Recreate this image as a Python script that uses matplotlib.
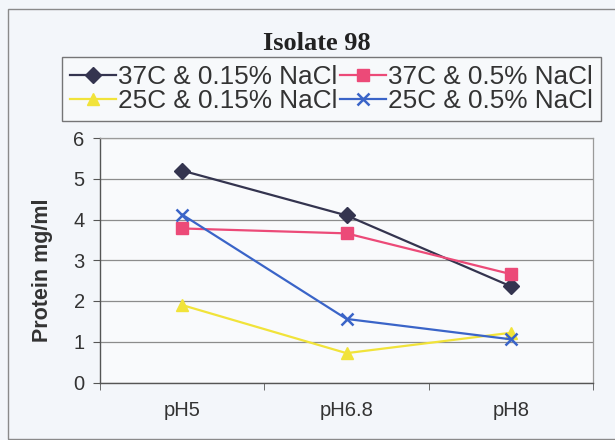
import matplotlib
matplotlib.use("Agg")
import matplotlib.pyplot as plt
from matplotlib.patches import Rectangle

categories = ["pH5", "pH6.8", "pH8"]
series_names = ["37C & 0.15% NaCl", "37C & 0.5% NaCl",
                "25C & 0.15% NaCl", "25C & 0.5% NaCl"]
v_37_015 = [5.2, 4.1, 2.36]
v_37_05 = [3.78, 3.66, 2.66]
v_25_015 = [1.9, 0.72, 1.22]
v_25_05 = [4.12, 1.56, 1.06]
y_ticks = [0, 1, 2, 3, 4, 5, 6]

W, H = 615, 440
fig = plt.figure(figsize=(W / 100, H / 100), dpi=100)
fig.patch.set_facecolor("#f3f6fa")

# outer chart frame
fig.patches.append(Rectangle((8 / W, 1 - 439 / H), 1.0, 430 / H,
                             transform=fig.transFigure, fill=False,
                             edgecolor="#8a8a8a", linewidth=1.0))

ax = fig.add_axes([100 / W, 1 - 382.5 / H, 493 / W, 244.5 / H])
ax.set_facecolor("#f9fafc")

x = list(range(len(categories)))
styles = [
    (v_37_015, "#34344f", "D", 8, "#34344f"),
    (v_37_05, "#ec4a78", "s", 8.5, "#ec4a78"),
    (v_25_015, "#f1e33a", "^", 8.5, "#f1e33a"),
    (v_25_05, "#3a64c8", "x", 9, "#3a64c8"),
]
handles = []
for (vals, col, mk, ms, mc), name in zip(styles, series_names):
    h, = ax.plot(x, vals, color=col, linewidth=1.6, marker=mk, markersize=ms,
                 markerfacecolor=mc, markeredgecolor=mc,
                 markeredgewidth=1.8 if mk == "x" else 1.0, label=name)
    handles.append(h)

ax.set_xlim(-0.5, len(categories) - 0.5)
ax.set_ylim(0, 6)
ax.set_yticks(y_ticks)
ax.set_xticks(x)
ax.set_xticklabels(categories)
ax.set_xticks([i - 0.5 for i in range(len(categories) + 1)], minor=True)
ax.tick_params(axis="x", which="major", length=0, pad=13)
ax.tick_params(axis="x", which="minor", length=5, direction="out", color="#555555")
ax.tick_params(axis="y", length=5, direction="out", color="#555555", pad=6)
for lab in ax.get_xticklabels() + ax.get_yticklabels():
    lab.set_fontfamily("Liberation Sans")
    lab.set_fontsize(14.5)
    lab.set_color("#333333")

ax.grid(axis="y", color="#8c8c8c", linewidth=0.9)
ax.set_axisbelow(True)
for side in ["top", "right"]:
    ax.spines[side].set_color("#9a9a9a")
    ax.spines[side].set_linewidth(0.9)
for side in ["left", "bottom"]:
    ax.spines[side].set_color("#555555")
    ax.spines[side].set_linewidth(1.0)

ax.set_ylabel("Protein mg/ml", fontfamily="Liberation Sans", fontsize=15.5,
              fontweight="bold", color="#333333")
ax.yaxis.set_label_coords(-0.095, 0.46)

fig.text(317 / W, 1 - 44 / H, "Isolate 98", ha="center", va="center",
         fontfamily="Liberation Serif", fontweight="bold", fontsize=19,
         color="#222222")

# legend laid out row-wise in two columns
order = [0, 2, 1, 3]
leg = fig.legend([handles[i] for i in order], [series_names[i] for i in order],
                 ncol=2, loc="upper left",
                 bbox_to_anchor=(62 / W, 1 - 57 / H),
                 frameon=True, fancybox=False, borderaxespad=0,
                 prop={"family": "Liberation Sans", "size": 18.8},
                 handlelength=1.75, handletextpad=0.1, columnspacing=0.1,
                 labelspacing=0.02, borderpad=0.3)
leg.get_frame().set_edgecolor("#555555")
leg.get_frame().set_linewidth(1.0)
leg.get_frame().set_facecolor("#f9fafc")
for t in leg.get_texts():
    t.set_color("#333333")

fig.savefig("out.png", dpi=100, facecolor=fig.get_facecolor())
